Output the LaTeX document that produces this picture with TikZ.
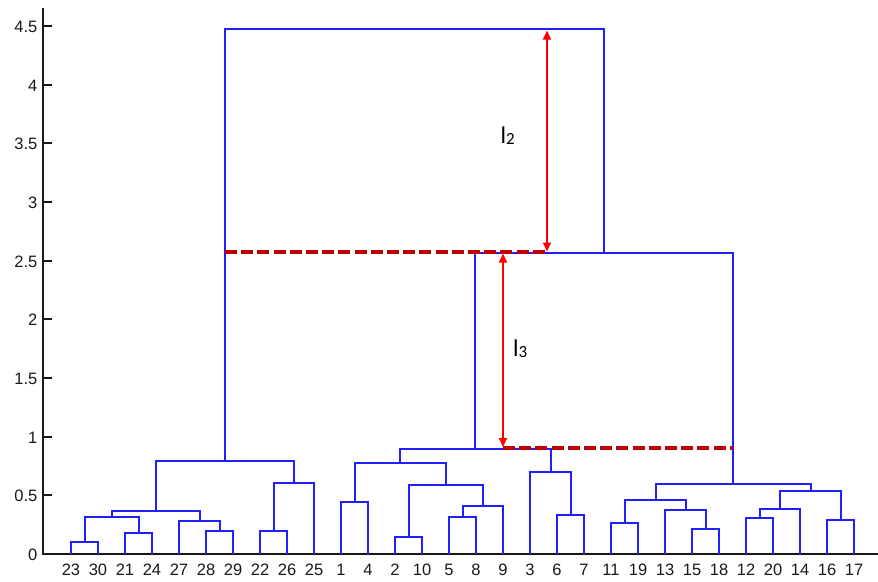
\documentclass[tikz,border=0pt]{standalone}
\usepackage{fontspec}
\setmainfont{Liberation Sans}
\newfontfamily\calfont{Carlito}
\usetikzlibrary{arrows.meta}
\definecolor{dblue}{RGB}{30,30,255}
\definecolor{dred}{RGB}{192,0,0}
\definecolor{ared}{RGB}{255,0,0}
\definecolor{axcol}{RGB}{25,25,25}
\tikzset{
  link/.style={draw=dblue,line width=1.6pt,line join=miter},
  axisline/.style={draw=axcol,line width=1.4pt},
  ticklab/.style={inner sep=0pt,text=axcol,font=\fontsize{16.5}{16.5}\selectfont},
  reddash/.style={draw=dred,line width=3.6pt,dash pattern=on 12pt off 4.2pt},
  redarrow/.style={draw=ared,line width=1.8pt,{Triangle[length=9pt,width=8pt]}-{Triangle[length=9pt,width=8pt]}},
  llab/.style={inner sep=0pt,anchor=base west,text=black}
}
% link: x_left, y_left, x_right, y_right, y_merge
\newcommand\dlink[5]{\draw[link] (#1,#2) |- (#3,#5) -- (#3,#4);}
\begin{document}
\begin{tikzpicture}[x=1pt,y=-1pt]
\useasboundingbox (0,0) rectangle (878,581);
% axes
\draw[axisline] (43,8) -- (43,554) -- (878,554);
\foreach \v/\yy in {0/554,0.5/495,1/437,1.5/378,2/319,2.5/261,3/202,3.5/143,4/85,4.5/26}{
  \draw[axisline] (43,\yy) -- (52,\yy);
  \node[ticklab,anchor=east] (yt\v) at (37.5,\yy+0.5) {\v};
}
% leaf labels
\foreach \lab [count=\i] in {23,30,21,24,27,28,29,22,26,25,1,4,2,10,5,8,9,3,6,7,11,19,13,15,18,12,20,14,16,17}{
  \node[ticklab,anchor=base] (leaf\i) at ({71+27*(\i-1)},575.7) {\lab};
}
% left cluster
\dlink{71}{554}{98}{554}{542}
\dlink{125}{554}{152}{554}{533}
\dlink{85}{542}{139}{533}{517}
\dlink{206}{554}{233}{554}{531}
\dlink{179}{554}{220}{531}{521}
\dlink{112}{517}{200}{521}{511}
\dlink{260}{554}{287}{554}{531}
\dlink{274}{531}{314}{554}{483}
\dlink{156}{511}{294}{483}{461}
% middle cluster
\dlink{341}{554}{368}{554}{502}
\dlink{395}{554}{422}{554}{537}
\dlink{449}{554}{476}{554}{517}
\dlink{463}{517}{503}{554}{506}
\dlink{409}{537}{483}{506}{485}
\dlink{355}{502}{446}{485}{463}
\dlink{557}{554}{584}{554}{515}
\dlink{530}{554}{571}{515}{472}
\dlink{400}{463}{551}{472}{449}
% right cluster
\dlink{611}{554}{638}{554}{523}
\dlink{692}{554}{719}{554}{529}
\dlink{665}{554}{706}{529}{510}
\dlink{625}{523}{686}{510}{500}
\dlink{746}{554}{773}{554}{518}
\dlink{760}{518}{800}{554}{509}
\dlink{827}{554}{854}{554}{520}
\dlink{780}{509}{841}{520}{491}
\dlink{656}{500}{811}{491}{484}
% upper merges
\dlink{475}{449}{733}{484}{253}
\dlink{225}{461}{604}{253}{29}
% red annotations
\coordinate (d1a) at (225,252);
\coordinate (d1b) at (548,252);
\coordinate (d2a) at (503,448);
\coordinate (d2b) at (733,448);
\coordinate (a2t) at (547,30.5);
\coordinate (a2b) at (547,251.5);
\coordinate (a3t) at (503,253.5);
\coordinate (a3b) at (503,447);
\draw[reddash] (d1a) -- (d1b);
\draw[reddash] (d2a) -- (d2b);
\draw[redarrow] (a2b) -- (a2t);
\draw[redarrow] (a3b) -- (a3t);
\node[llab] (l2) at (500.3,143.5) {\calfont\fontsize{24}{24}\selectfont l\raisebox{-1pt}{\fontsize{17}{17}\selectfont 2}};
\node[llab] (l3) at (513,356) {\calfont\fontsize{24}{24}\selectfont l\raisebox{-1pt}{\fontsize{17}{17}\selectfont 3}};
\end{tikzpicture}
\end{document}
